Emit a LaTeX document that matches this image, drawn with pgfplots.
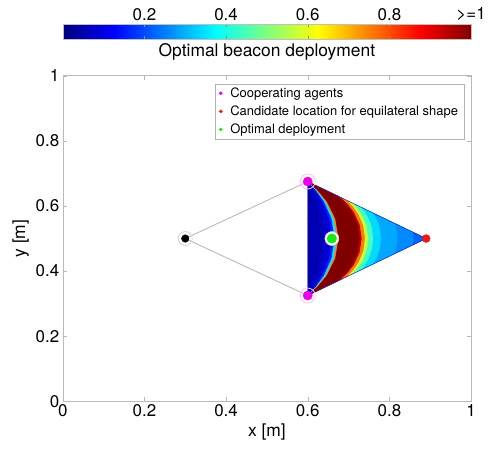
\documentclass[border=0pt]{standalone}
\usepackage{fontspec}
\setmainfont{TeX Gyre Heros}
\usepackage{pgfplots}
\pgfplotsset{compat=1.18}
\definecolor{ptgreen}{RGB}{20,235,20}
\definecolor{ptpink}{RGB}{235,0,235}
\definecolor{ptred}{RGB}{240,20,20}
\definecolor{bkblue}{RGB}{0,0,190}
\definecolor{bkred}{RGB}{128,0,0}
\definecolor{bksky}{RGB}{0,150,255}
\definecolor{edgeblue}{RGB}{40,40,190}
\begin{document}
\begin{tikzpicture}
\begin{axis}[
  name=ax,
  scale only axis, width=410pt, height=327pt,
  xmin=0, xmax=1, ymin=0, ymax=1,
  xtick={0,0.2,0.4,0.6,0.8,1}, ytick={0,0.2,0.4,0.6,0.8,1},
  /pgf/number format/assume math mode=true,
  ticklabel style={font=\fontsize{17}{20}\selectfont},
  label style={font=\fontsize{17.5}{21}\selectfont},
  xlabel={x [m]}, ylabel={y [m]},
  axis line style={gray!55},
  tick style={gray!55},
  tick align=inside,
  major tick length=4pt,
  colormap/jet,
  point meta min=0, point meta max=1,
  colorbar horizontal,
  colorbar style={
    at={(0.5,1.113)}, anchor=south,
    scale only axis, width=410pt, height=15pt,
    xtick={0.2,0.4,0.6,0.8,1},
    xticklabels={0.2,0.4,0.6,0.8,{>=1}},
    xticklabel pos=upper,
    xtick pos=both,
    tick align=inside, major tick length=3pt,
    tick style={black!45},
    axis line style={gray!50},
    ticklabel style={font=\fontsize{17}{20}\selectfont},
    xlabel={Optimal beacon deployment},
    xlabel style={at={(axis description cs:0.5,0)}, anchor=north, yshift=-1pt, font=\fontsize{17.5}{21}\selectfont},
  },
  legend style={at={(0.983,0.976)}, anchor=north east, font=\fontsize{13}{15.5}\selectfont, draw=gray!60, inner xsep=4pt, inner ysep=2pt, row sep=3pt, /tikz/every odd column/.append style={column sep=6pt}},
  legend cell align=left,
]
\addplot[gray!55, line width=0.9pt, forget plot] coordinates {(0.6,0.675) (0.3,0.5) (0.6,0.325)};
% backing fills (hide seams of the shaded mesh)
\addplot[draw=none, fill=bkblue, forget plot] coordinates {(0.6,0.325) (0.6203,0.3513) (0.6403,0.3863) (0.6588,0.4388) (0.666,0.5) (0.6588,0.5613) (0.6403,0.6138) (0.6203,0.6488) (0.6,0.675)} -- cycle;
\addplot[draw=none, fill=bkred, forget plot] coordinates {(0.6,0.325) (0.6242,0.3513) (0.6473,0.3863) (0.668,0.4388) (0.676,0.5) (0.668,0.5613) (0.6473,0.6138) (0.6242,0.6488) (0.6,0.675) (0.6733,0.6308) (0.6905,0.6112) (0.7071,0.585) (0.7222,0.5458) (0.728,0.5) (0.7222,0.4542) (0.7071,0.415) (0.6905,0.3888) (0.6733,0.3692)} -- cycle;
\addplot[draw=none, fill=bksky, forget plot] coordinates {(0.7334,0.4055) (0.7416,0.4197) (0.7499,0.4386) (0.7579,0.4669) (0.761,0.5) (0.7579,0.5331) (0.7499,0.5614) (0.7416,0.5803) (0.7334,0.5945) (0.89,0.5)} -- cycle;
\addplot[surf, shader=flat, mesh/cols=9, point meta=explicit, forget plot] table[x=x, y=y, meta=v] {
x y v
0.6 0.325 0.04
0.6 0.3513 0.04
0.6 0.3863 0.04
0.6 0.4388 0.04
0.6 0.5 0.04
0.6 0.5613 0.04
0.6 0.6138 0.04
0.6 0.6488 0.04
0.6 0.675 0.04

0.6 0.325 0.06
0.6115 0.3513 0.06
0.6236 0.3863 0.06
0.6353 0.4388 0.06
0.64 0.5 0.06
0.6353 0.5613 0.06
0.6236 0.6138 0.06
0.6115 0.6488 0.06
0.6 0.675 0.06

0.6 0.325 0.1
0.6174 0.3513 0.1
0.635 0.3863 0.1
0.6515 0.4388 0.1
0.658 0.5 0.1
0.6515 0.5613 0.1
0.635 0.6138 0.1
0.6174 0.6488 0.1
0.6 0.675 0.1

0.6 0.325 0.2
0.6203 0.3513 0.2
0.6403 0.3863 0.2
0.6588 0.4388 0.2
0.666 0.5 0.2
0.6588 0.5613 0.2
0.6403 0.6138 0.2
0.6203 0.6488 0.2
0.6 0.675 0.2

0.6 0.325 0.5
0.6226 0.3513 0.5
0.6445 0.3863 0.5
0.6643 0.4388 0.5
0.672 0.5 0.5
0.6643 0.5613 0.5
0.6445 0.6138 0.5
0.6226 0.6488 0.5
0.6 0.675 0.5

0.6 0.325 1
0.6242 0.3513 1
0.6473 0.3863 1
0.668 0.4388 1
0.676 0.5 1
0.668 0.5613 1
0.6473 0.6138 1
0.6242 0.6488 1
0.6 0.675 1

0.6 0.325 1
0.6346 0.3513 1
0.6642 0.3863 1
0.6894 0.4388 1
0.6988 0.5 1
0.6894 0.5613 1
0.6642 0.6138 1
0.6346 0.6488 1
0.6 0.675 1

0.6733 0.3692 1
0.6905 0.3888 1
0.7071 0.415 1
0.7222 0.4542 1
0.728 0.5 1
0.7222 0.5458 1
0.7071 0.585 1
0.6905 0.6112 1
0.6733 0.6308 1

0.6835 0.3754 0.88
0.6989 0.3941 0.88
0.7139 0.419 0.88
0.7277 0.4564 0.88
0.733 0.5 0.88
0.7277 0.5436 0.88
0.7139 0.581 0.88
0.6989 0.6059 0.88
0.6835 0.6246 0.88

0.699 0.3847 0.63
0.7118 0.402 0.63
0.7246 0.4251 0.63
0.7364 0.4597 0.63
0.741 0.5 0.63
0.7364 0.5403 0.63
0.7246 0.5749 0.63
0.7118 0.598 0.63
0.699 0.6153 0.63

0.7134 0.3934 0.5
0.7241 0.4094 0.5
0.7349 0.4307 0.5
0.745 0.4627 0.5
0.749 0.5 0.5
0.745 0.5373 0.5
0.7349 0.5693 0.5
0.7241 0.5906 0.5
0.7134 0.6066 0.5

0.7334 0.4055 0.38
0.7416 0.4197 0.38
0.7499 0.4386 0.38
0.7579 0.4669 0.38
0.761 0.5 0.38
0.7579 0.5331 0.38
0.7499 0.5614 0.38
0.7416 0.5803 0.38
0.7334 0.5945 0.38

0.7621 0.4228 0.3
0.7672 0.4344 0.3
0.7727 0.4498 0.3
0.7779 0.473 0.3
0.78 0.5 0.3
0.7779 0.527 0.3
0.7727 0.5502 0.3
0.7672 0.5656 0.3
0.7621 0.5772 0.3

0.8141 0.4542 0.28
0.8157 0.461 0.28
0.8175 0.4702 0.28
0.8193 0.484 0.28
0.82 0.5 0.28
0.8193 0.516 0.28
0.8175 0.5298 0.28
0.8157 0.539 0.28
0.8141 0.5458 0.28

0.8591 0.4813 0.24
0.8593 0.4841 0.24
0.8596 0.4879 0.24
0.8599 0.4935 0.24
0.86 0.5 0.24
0.8599 0.5065 0.24
0.8596 0.5121 0.24
0.8593 0.5159 0.24
0.8591 0.5187 0.24

0.89 0.5 0.2
0.89 0.5 0.2
0.89 0.5 0.2
0.89 0.5 0.2
0.89 0.5 0.2
0.89 0.5 0.2
0.89 0.5 0.2
0.89 0.5 0.2
0.89 0.5 0.2
};
\addplot[draw=edgeblue, line width=0.5pt, forget plot] coordinates {(0.6,0.675) (0.89,0.5) (0.6,0.325)};
% rings
\addplot[only marks, mark=o, mark size=7pt, mark options={draw=gray!35, line width=0.8pt}, forget plot] coordinates {(0.3,0.5)};
\addplot[only marks, mark=o, mark size=7.5pt, mark options={draw=ptpink!25, line width=0.8pt}, forget plot] coordinates {(0.6,0.675) (0.6,0.325)};
\addplot[only marks, mark=*, mark size=7pt, mark options={draw=gray!40, fill=white, line width=0.6pt}, forget plot] coordinates {(0.659,0.5)};
% points
\addplot[only marks, mark=*, mark size=3.8pt, mark options={draw=black, fill=black}, forget plot] coordinates {(0.3,0.5)};
\addplot[only marks, mark=*, mark size=4.6pt, mark options={draw=ptpink, fill=ptpink}, forget plot] coordinates {(0.6,0.675) (0.6,0.325)};
\addplot[only marks, mark=*, mark size=4.8pt, mark options={draw=ptgreen, fill=ptgreen}, forget plot] coordinates {(0.659,0.5)};
\addplot[only marks, mark=*, mark size=4pt, mark options={draw=ptred, fill=ptred}, forget plot] coordinates {(0.89,0.5)};
% legend
\addlegendimage{only marks, mark=*, mark size=1.6pt, mark options={draw=ptpink, fill=ptpink}}
\addlegendentry{Cooperating agents}
\addlegendimage{only marks, mark=*, mark size=1.6pt, mark options={draw=ptred, fill=ptred}}
\addlegendentry{Candidate location for equilateral shape}
\addlegendimage{only marks, mark=*, mark size=1.6pt, mark options={draw=ptgreen, fill=ptgreen}}
\addlegendentry{Optimal deployment}
\end{axis}
\path (ax.south west) ++(-63pt,-51pt) rectangle ([shift={(16pt,76pt)}]ax.north east);
\end{tikzpicture}
\end{document}
